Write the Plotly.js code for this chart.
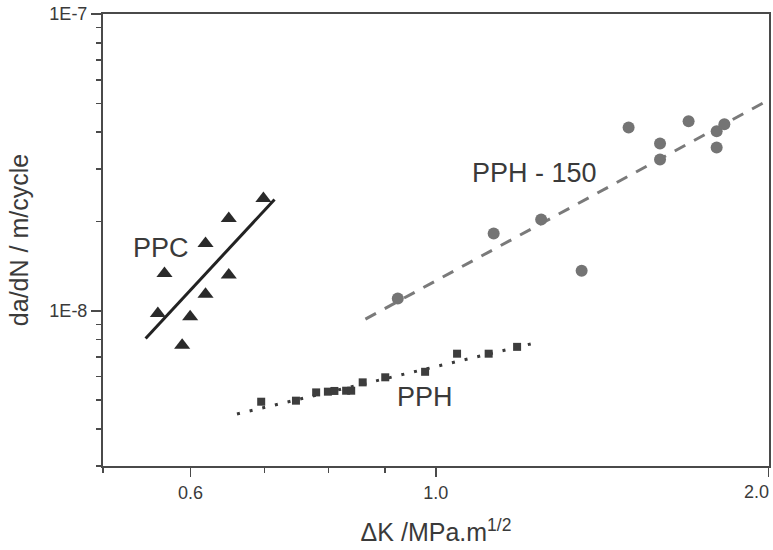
<!DOCTYPE html>
<html>
<head>
<meta charset="utf-8">
<script src="https://cdn.plot.ly/plotly-3.0.1.min.js"></script>
<style>html,body{margin:0;padding:0;background:#fff;}#chart{width:773px;height:550px;}</style>
</head>
<body>
<div id="chart"></div>
<script>
// PPC (triangles)
const ppcX = [0.5605, 0.5683, 0.5896, 0.5995, 0.6190, 0.6190, 0.6497, 0.6497, 0.6983];
const ppcY = [9.80e-9, 1.336e-8, 7.66e-9, 9.55e-9, 1.138e-8, 1.686e-8, 2.047e-8, 1.319e-8, 2.390e-8];
const ppcFitX = [0.5464, 0.7147];
const ppcFitY = [8.07e-9, 2.372e-8];

// PPH (squares)
const pphX = [0.6951, 0.7473, 0.7794, 0.7987, 0.8096, 0.8296, 0.8384, 0.8587, 0.9000, 0.9779, 1.0452, 1.1163, 1.1844];
const pphY = [4.94e-9, 4.98e-9, 5.31e-9, 5.34e-9, 5.37e-9, 5.38e-9, 5.38e-9, 5.74e-9, 5.97e-9, 6.23e-9, 7.17e-9, 7.17e-9, 7.56e-9];
const pphFitX = [0.6609, 1.2307];
const pphFitY = [4.49e-9, 7.80e-9];

// PPH - 150 (circles)
const pph150X = [0.9238, 1.1280, 1.2453, 1.3548, 1.4940, 1.5950, 1.5950, 1.6928, 1.7947, 1.7947, 1.8237];
const pph150Y = [1.101e-8, 1.822e-8, 2.031e-8, 1.364e-8, 4.145e-8, 3.661e-8, 3.235e-8, 4.353e-8, 4.029e-8, 3.550e-8, 4.253e-8];
const pph150FitX = [0.8636, 1.9861];
const pph150FitY = [9.38e-9, 5.06e-8];

// axis ticks
const xTickVals = [0.6, 1.0, 2.0];
const xTickText = ["0.6", "1.0", ""];
const xEdgeLabel = "2.0";   // label of the 2.0 tick, drawn right-aligned at the plot edge
const xMinorVals = [0.5, 0.7, 0.8, 0.9];
const yTickVals = [1e-8, 1e-7];
const yTickText = ["1E-8", "1E-7"];
const yMinorVals = [3e-9, 4e-9, 5e-9, 6e-9, 7e-9, 8e-9, 9e-9, 2e-8, 3e-8, 4e-8, 5e-8, 6e-8, 7e-8, 8e-8, 9e-8];

const labels = ["PPC", "PPH - 150", "PPH"];

const font = "Liberation Sans, Arial, sans-serif";
const axisColor = "#4a4a4a";
const textColor = "#3a3a3a";

const traces = [
  {x: ppcFitX, y: ppcFitY, mode: "lines", line: {color: "#222222", width: 3}, name: "PPC fit"},
  {x: ppcX, y: ppcY, mode: "markers", marker: {symbol: "triangle-up", size: 14, color: "#2a2a2a"}, name: "PPC"},
  {x: pphFitX, y: pphFitY, mode: "lines", line: {color: "#3a3a3a", width: 3, dash: "3px,10px"}, name: "PPH fit"},
  {x: pphX, y: pphY, mode: "markers", marker: {symbol: "square", size: 8, color: "#3d3d3d"}, name: "PPH"},
  {x: pph150FitX, y: pph150FitY, mode: "lines", line: {color: "#7a7a7a", width: 3, dash: "12px,10px"}, name: "PPH-150 fit"},
  {x: pph150X, y: pph150Y, mode: "markers", marker: {symbol: "circle", size: 12, color: "#747474"}, name: "PPH - 150"}
];

const layout = {
  width: 773, height: 550,
  margin: {l: 103, r: 4, t: 14, b: 84},
  paper_bgcolor: "#ffffff", plot_bgcolor: "#ffffff",
  showlegend: false,
  font: {family: font, color: textColor, size: 18},
  xaxis: {
    type: "log", range: [Math.log10(0.5), Math.log10(2.0) + 0.0003],
    tickmode: "array", tickvals: xTickVals, ticktext: xTickText,
    ticks: "outside", ticklen: 9, tickwidth: 1.5, tickcolor: axisColor,
    minor: {tickmode: "array", tickvals: xMinorVals, ticks: "outside", ticklen: 5, tickwidth: 1.5, tickcolor: axisColor, showgrid: false},
    showline: true, linecolor: axisColor, linewidth: 2, mirror: true,
    showgrid: false, zeroline: false,
    tickfont: {size: 18, color: textColor},
    title: {text: "ΔK /MPa.m<sup>1/2</sup>", font: {size: 25, color: textColor}, standoff: 22}
  },
  yaxis: {
    type: "log", range: [Math.log10(3e-9), -7],
    tickmode: "array", tickvals: yTickVals, ticktext: yTickText,
    ticks: "outside", ticklen: 10, tickwidth: 1.5, tickcolor: axisColor,
    minor: {tickmode: "array", tickvals: yMinorVals, ticks: "outside", ticklen: 5, tickwidth: 1.5, tickcolor: axisColor, showgrid: false},
    showline: true, linecolor: axisColor, linewidth: 2, mirror: true,
    showgrid: false, zeroline: false,
    tickfont: {size: 18, color: textColor},
    title: {text: "da/dN / m/cycle", font: {size: 25, color: textColor}, standoff: 14}
  },
  annotations: [
    {xref: "paper", yref: "paper", x: 0.0865, y: 0.483, text: labels[0], showarrow: false, font: {size: 27, color: textColor}, xanchor: "center", yanchor: "middle"},
    {xref: "paper", yref: "paper", x: 0.648, y: 0.649, text: labels[1], showarrow: false, font: {size: 27, color: textColor}, xanchor: "center", yanchor: "middle"},
    {xref: "paper", yref: "paper", x: 0.484, y: 0.153, text: labels[2], showarrow: false, font: {size: 27, color: textColor}, xanchor: "center", yanchor: "middle"},
    {xref: "paper", yref: "paper", x: 1, y: 0, text: xEdgeLabel, showarrow: false, font: {size: 18, color: textColor}, xanchor: "right", yanchor: "middle", xshift: 2, yshift: -26}
  ]
};

Plotly.newPlot("chart", traces, layout, {staticPlot: true, displayModeBar: false});
</script>
</body>
</html>
